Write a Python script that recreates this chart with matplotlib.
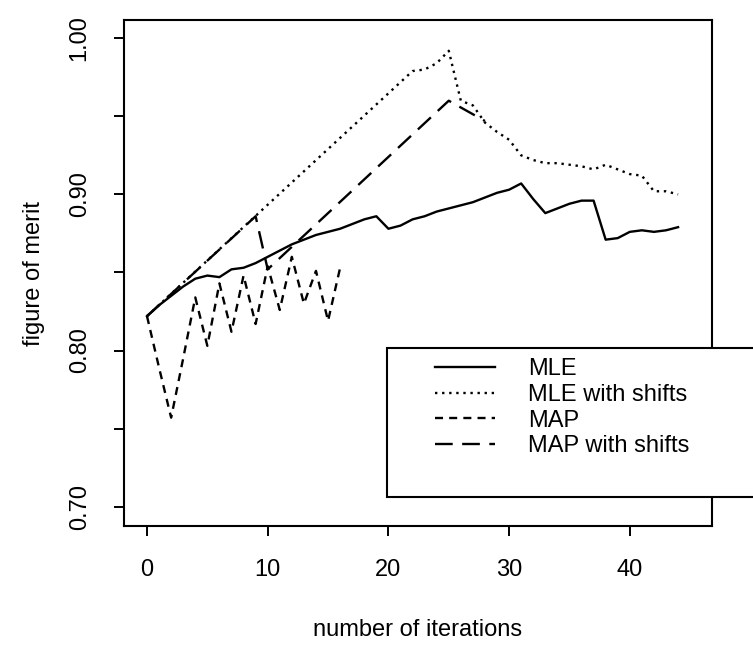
import matplotlib
matplotlib.use("Agg")
import matplotlib.pyplot as plt
from matplotlib.patches import Rectangle

plt.rcParams["font.family"] = ["Liberation Sans", "DejaVu Sans"]

# values
mle_iter = list(range(45))
mle = [0.822, 0.829, 0.835, 0.841, 0.846, 0.848, 0.847, 0.852, 0.853, 0.856,
       0.860, 0.864, 0.868, 0.871, 0.874, 0.876, 0.878, 0.881, 0.884, 0.886,
       0.878, 0.880, 0.884, 0.886, 0.889, 0.891, 0.893, 0.895, 0.898, 0.901,
       0.903, 0.907, 0.897, 0.888, 0.891, 0.894, 0.896, 0.896, 0.871, 0.872,
       0.876, 0.877, 0.876, 0.877, 0.879]

mle_shift_iter = [0, 22, 23, 24, 25, 26, 27, 28, 29, 30, 31, 32, 33, 34, 35,
                  36, 37, 38, 39, 40, 41, 42, 43, 44]
mle_shift = [0.822, 0.979, 0.980, 0.984, 0.992, 0.960, 0.957, 0.946, 0.940,
             0.935, 0.925, 0.922, 0.920, 0.920, 0.919, 0.918, 0.916, 0.919,
             0.916, 0.913, 0.912, 0.902, 0.902, 0.900]

map_iter = list(range(17))
map_ = [0.822, 0.789, 0.757, 0.795, 0.834, 0.803, 0.843, 0.812, 0.848, 0.817,
        0.854, 0.826, 0.860, 0.830, 0.851, 0.819, 0.853]

map_shift_iter = [0, 9, 10, 25, 28]
map_shift = [0.822, 0.886, 0.852, 0.960, 0.947]

labels = ["MLE", "MLE with shifts", "MAP", "MAP with shifts"]
xticks = [0, 10, 20, 30, 40]
yticks = [0.70, 0.75, 0.80, 0.85, 0.90, 0.95, 1.00]
ytick_labels = ["0.70", "", "0.80", "", "0.90", "", "1.00"]

W, H = 753, 645
fig = plt.figure(figsize=(W / 100, H / 100), dpi=100)
ax = fig.add_axes([124 / W, 1 - 526 / H, 588 / W, 506 / H])

lw = 1.7
ax.plot(mle_iter, mle, color="black", lw=lw, ls="-", label=labels[0])
ax.plot(mle_shift_iter, mle_shift, color="black", lw=lw, ls=(0, (1, 2)),
        label=labels[1])
ax.plot(map_iter, map_, color="black", lw=lw, ls=(0, (3.4, 2.6)),
        label=labels[2])
ax.plot(map_shift_iter, map_shift, color="black", lw=lw, ls=(0, (7.5, 4)),
        label=labels[3])

ax.set_xlim(-1.905, 46.81)
ax.set_ylim(0.6876, 1.0117)
ax.set_xticks(xticks)
ax.set_yticks(yticks)
ax.set_yticklabels(ytick_labels)

for s in ax.spines.values():
    s.set_linewidth(1.5)
ax.tick_params(direction="out", length=7, width=1.4, labelsize=17, pad=17)
for t in ax.get_yticklabels():
    t.set_rotation(90)
    t.set_va("center")

ax.set_xlabel("number of iterations", fontsize=17, labelpad=27)
ax.set_ylabel("figure of merit", fontsize=17, labelpad=17)

# legend box sticks out past the right edge of the figure
frame = Rectangle((387 / W, 1 - 497 / H), (820 - 387) / W, (497 - 348) / H,
                  transform=fig.transFigure, facecolor="white",
                  edgecolor="black", lw=1.5, zorder=4, clip_on=False)
ax.add_artist(frame)
ax.legend(loc="upper left", bbox_to_anchor=(435 / W, 1 - 358 / H),
          bbox_transform=fig.transFigure, frameon=False, fontsize=17,
          borderpad=0, borderaxespad=0, handlelength=2.54,
          handletextpad=1.4, labelspacing=0.16).set_zorder(5)

fig.savefig("out.png", dpi=100)
